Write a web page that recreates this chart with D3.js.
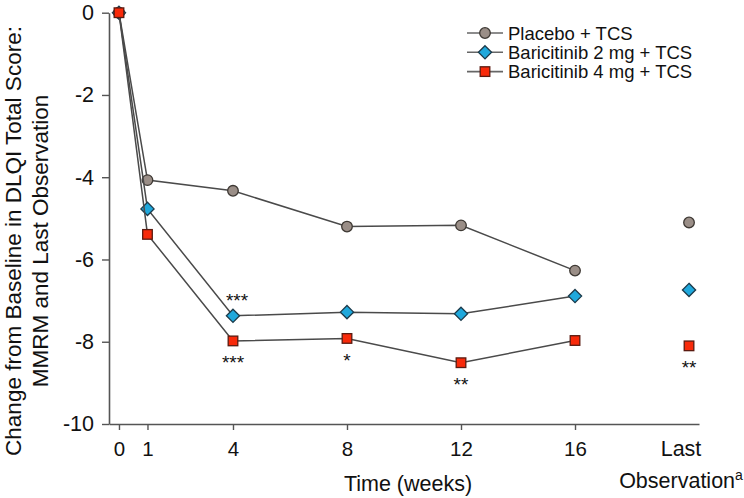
<!DOCTYPE html>
<html>
<head>
<meta charset="utf-8">
<script src="https://cdn.jsdelivr.net/npm/d3@7"></script>
<style>
  html, body { margin: 0; padding: 0; background: #fff; }
  svg { display: block; }
  text { font-family: "Liberation Sans", Arial, Helvetica, sans-serif; fill: #111; }
</style>
</head>
<body>
<svg id="chart" width="744" height="498"></svg>
<script>
// ---- data ----
const weekTicks = [0, 1, 4, 8, 12, 16];
const lastObsPos = 20; // position of "Last Observation" on the time axis
const seriesNames = ["Placebo + TCS", "Baricitinib 2 mg + TCS", "Baricitinib 4 mg + TCS"];
const placebo = [0, -4.07, -4.33, -5.20, -5.17, -6.27];
const bari2 = [0, -4.77, -7.37, -7.28, -7.32, -6.89];
const bari4 = [0, -5.39, -7.98, -7.92, -8.51, -7.97];
const lastObs = [-5.10, -6.74, -8.10];
const yTicks = [0, -2, -4, -6, -8, -10];
const yTitle = ["Change from Baseline in DLQI Total Score:", "MMRM and Last Observation"];
const xTitle = "Time (weeks)";
// significance markers: [series index, point index (6 = last obs), label, above?]
const sigMarks = [
  [1, 2, "***", true],
  [2, 2, "***", false],
  [2, 3, "*", false],
  [2, 4, "**", false],
  [2, 6, "**", false]
];

// ---- drawing ----
const svg = d3.select("#chart");
const x = d3.scaleLinear().domain([-0.35, 20.35]).range([109, 699]);
const y = d3.scaleLinear().domain([-10, 0]).range([424, 12.7]);

const axisColor = "#555";
const lineColor = "#4a4a4a";

// x axis
const gx = svg.append("g").attr("transform", `translate(0,${y(-10)})`)
  .call(d3.axisBottom(x).tickValues(weekTicks).tickSize(6).tickSizeOuter(0).tickFormat(d3.format("d")));
gx.select(".domain").attr("stroke", axisColor).attr("stroke-width", 1.6);
gx.selectAll(".tick line").attr("stroke", axisColor).attr("stroke-width", 1.4);
gx.selectAll(".tick text").attr("dy", null).attr("y", 32).style("font-size", "20.5px").attr("fill", "#111");

// y axis
const gy = svg.append("g").attr("transform", `translate(${x(-0.35)},0)`)
  .call(d3.axisLeft(y).tickValues(yTicks).tickSize(7).tickPadding(8).tickSizeOuter(0).tickFormat(d3.format("d")));
gy.select(".domain").attr("stroke", axisColor).attr("stroke-width", 1.6);
gy.selectAll(".tick line").attr("stroke", axisColor).attr("stroke-width", 1.4);
gy.selectAll(".tick text").style("font-size", "21.5px").attr("fill", "#111")
  .text(d => d === 0 ? "0" : "-" + Math.abs(d));

// axis titles
svg.append("text").attr("x", 408).attr("y", 490.5).attr("text-anchor", "middle")
  .style("font-size", "21.5px").text(xTitle);

const lo = svg.append("text").attr("text-anchor", "middle").style("font-size", "21.5px");
lo.append("tspan").attr("x", 681).attr("y", 456).text("Last");
const lo2 = lo.append("tspan").attr("x", 681).attr("y", 488);
lo2.append("tspan").text("Observation");
lo2.append("tspan").attr("dy", -8).style("font-size", "14px").text("a");

const yt = svg.append("text").attr("transform", `translate(0,241) rotate(-90)`)
  .attr("text-anchor", "middle").style("font-size", "22.5px");
yt.append("tspan").attr("x", 0).attr("y", 21).text(yTitle[0]);
yt.append("tspan").attr("x", 0).attr("y", 48).text(yTitle[1]);

// series
const seriesData = [placebo, bari2, bari4];
const fills = ["#9a8e87", "#1fa8dc", "#f82a0a"];
const strokes = ["#3d3833", "#1c3a4a", "#5a1a10"];

const line = d3.line().x((d, i) => x(weekTicks[i])).y(d => y(d));

function drawMarker(g, s, cx, cy) {
  if (s === 0) {
    g.append("circle").attr("cx", cx).attr("cy", cy).attr("r", 5.3)
      .attr("fill", fills[0]).attr("stroke", strokes[0]).attr("stroke-width", 1.3);
  } else if (s === 1) {
    const r = 6.6;
    g.append("path").attr("d", `M${cx},${cy - r}L${cx + r},${cy}L${cx},${cy + r}L${cx - r},${cy}Z`)
      .attr("fill", fills[1]).attr("stroke", strokes[1]).attr("stroke-width", 1.3);
  } else {
    const h = 4.8;
    g.append("rect").attr("x", cx - h).attr("y", cy - h).attr("width", 2 * h).attr("height", 2 * h)
      .attr("fill", fills[2]).attr("stroke", strokes[2]).attr("stroke-width", 1.3);
  }
}

seriesData.forEach((vals, s) => {
  const g = svg.append("g");
  g.append("path").datum(vals).attr("d", line).attr("fill", "none")
    .attr("stroke", lineColor).attr("stroke-width", 1.5);
  vals.forEach((v, i) => drawMarker(g, s, x(weekTicks[i]), y(v)));
  drawMarker(g, s, x(lastObsPos), y(lastObs[s]));
});

// significance asterisks
sigMarks.forEach(([s, i, lab, above]) => {
  const xv = i === 6 ? lastObsPos : weekTicks[i];
  const v = i === 6 ? lastObs[s] : seriesData[s][i];
  const cy = above ? y(v) - 19 : y(v) + 18;
  const dx = (s === 1 && i === 2) ? 4 : 0;
  svg.append("text").attr("x", x(xv) + dx).attr("y", cy + 10.5).attr("text-anchor", "middle")
    .style("font-size", "19px").text(lab);
});

// legend
const leg = svg.append("g");
seriesNames.forEach((name, s) => {
  const cy = 33 + s * 19.3;
  leg.append("line").attr("x1", 467).attr("x2", 503).attr("y1", cy).attr("y2", cy)
    .attr("stroke", "#666").attr("stroke-width", 1.6);
  drawMarker(leg, s, 485, cy);
  leg.append("text").attr("x", 508).attr("y", cy + 6.5).style("font-size", "18.5px").text(name);
});
</script>
</body>
</html>
